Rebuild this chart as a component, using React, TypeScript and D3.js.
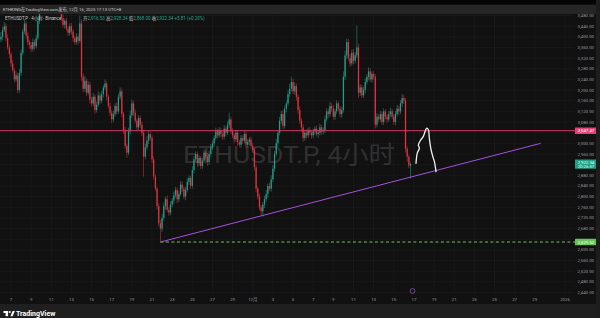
import React from 'react';
import * as d3 from 'd3';

const W = 600;
const H = 318;

// 4h candles starting 2025-11-06 00:00 (UTC+8 display)
const closes = [
  3400, 3425, 3440, 3395, 3360, 3335,
  3300, 3275, 3240, 3255, 3200, 3265,
  3340, 3420, 3450, 3405, 3380, 3370,
  3355, 3380, 3365, 3395, 3460, 3500,
  3560, 3590, 3610, 3580, 3600, 3620,
  3590, 3570, 3545, 3560, 3530, 3505,
  3470, 3445, 3460, 3430, 3415, 3440,
  3420, 3395, 3380, 3400, 3385, 3450,
  3250, 3205, 3235, 3190, 3220, 3165,
  3150, 3175, 3125, 3145, 3180, 3160,
  3185, 3210, 3225, 3175, 3140, 3115,
  3090, 3110, 3140, 3120, 3175, 3195,
  3110, 3050, 2990, 2965, 3045, 3105,
  3150, 3115, 3085, 3060, 3095, 3070,
  3040, 2950, 2985, 3010, 3035, 3020,
  2940, 2875, 2830, 2765, 2700, 2680,
  2720, 2765, 2790, 2750, 2740, 2770,
  2785, 2805, 2825, 2790, 2810, 2845,
  2830, 2800, 2825, 2855, 2870, 2840,
  2900, 2940, 2960, 2925, 2945, 2915,
  2935, 2965, 2950, 2930, 2960, 2985,
  3000, 3020, 3045, 3030, 3050, 3035,
  3025, 3055, 3040, 3070, 3090, 3045,
  3030, 3015, 3040, 3005, 2995, 3020,
  3010, 3035, 2995, 3005, 3015, 2990,
  2975, 2910, 2830, 2800, 2760, 2745,
  2770, 2790, 2810, 2840, 2830, 2865,
  2905, 2960, 3000, 3040, 3085, 3110,
  3065, 3130, 3150, 3185, 3205, 3230,
  3195, 3215, 3175, 3125, 3085, 3060,
  3020, 3040, 3030, 3050, 3040, 3030,
  3045, 3055, 3035, 3040, 3060, 3045,
  3050, 3090, 3120, 3110, 3140, 3130,
  3100, 3120, 3150, 3130, 3110, 3125,
  3250, 3330, 3380, 3320, 3300, 3340,
  3310, 3330, 3360, 3190, 3210, 3180,
  3200, 3230, 3250, 3270, 3240, 3260,
  3250, 3070, 3100, 3090, 3110, 3080,
  3120, 3100, 3090, 3110, 3120, 3100,
  3080, 3110, 3130, 3120, 3150, 3170,
  3160, 2980, 2950, 2916.53, 2922.34,
];
const firstOpen = 3390;

const upWick = [
  18, 12, 15, 10, 14, 9,
  10, 12, 8, 15, 9, 14,
  12, 10, 16, 9, 12, 8,
  10, 14, 9, 12, 15, 10,
  15, 12, 18, 10, 14, 16,
  12, 9, 14, 10, 8, 12,
  10, 14, 8, 12, 9, 11,
  12, 8, 10, 14, 9, 30,
  15, 12, 18, 9, 14, 10,
  10, 14, 8, 12, 15, 9,
  12, 10, 15, 9, 8, 12,
  9, 12, 10, 14, 11, 15,
  10, 8, 12, 9, 14, 18,
  15, 10, 12, 8, 11, 9,
  12, 10, 14, 16, 12, 9,
  10, 12, 9, 8, 10, 14,
  15, 12, 10, 14, 9, 12,
  10, 14, 12, 9, 11, 13,
  12, 9, 11, 14, 10, 8,
  14, 12, 10, 9, 12, 8,
  10, 12, 9, 14, 11, 12,
  12, 10, 14, 9, 12, 8,
  10, 14, 9, 12, 25, 10,
  12, 9, 11, 10, 8, 12,
  10, 12, 9, 11, 8, 10,
  12, 9, 10, 8, 11, 9,
  10, 12, 14, 9, 12, 15,
  14, 12, 16, 10, 14, 12,
  15, 12, 10, 14, 18, 20,
  12, 14, 10, 9, 12, 10,
  12, 10, 14, 9, 12, 10,
  10, 9, 12, 10, 14, 9,
  10, 14, 12, 10, 15, 12,
  14, 10, 12, 9, 10, 12,
  20, 18, 14, 12, 15, 12,
  14, 12, 82, 15, 12, 10,
  12, 14, 10, 15, 12, 10,
  12, 10, 14, 9, 12, 10,
  12, 9, 10, 12, 14, 10,
  10, 12, 14, 10, 12, 15,
  12, 10, 9, 8, 6,
];

const downWick = [
  10, 14, 8, 12, 10, 15,
  14, 10, 12, 9, 13, 10,
  12, 9, 10, 14, 12, 15,
  12, 10, 14, 9, 8, 12,
  14, 10, 12, 15, 10, 9,
  12, 14, 10, 9, 12, 10,
  12, 10, 14, 9, 12, 10,
  12, 14, 10, 9, 15, 8,
  15, 14, 10, 12, 9, 15,
  12, 10, 14, 9, 8, 12,
  10, 12, 9, 14, 10, 12,
  14, 9, 10, 12, 8, 10,
  12, 14, 10, 20, 9, 12,
  10, 12, 9, 14, 10, 12,
  12, 75, 10, 9, 12, 10,
  14, 12, 10, 15, 12, 50.48,
  12, 10, 14, 9, 12, 10,
  10, 12, 9, 14, 10, 8,
  12, 10, 14, 9, 11, 12,
  10, 12, 9, 14, 10, 12,
  12, 9, 10, 14, 12, 10,
  10, 12, 9, 11, 10, 12,
  12, 10, 14, 9, 12, 10,
  10, 12, 9, 14, 10, 12,
  12, 10, 14, 9, 12, 10,
  10, 12, 14, 10, 12, 15,
  20, 12, 10, 14, 9, 12,
  10, 12, 9, 14, 10, 12,
  12, 10, 14, 9, 12, 10,
  10, 12, 14, 16, 12, 15,
  14, 10, 12, 9, 10, 12,
  10, 12, 9, 14, 10, 12,
  12, 10, 9, 14, 10, 12,
  10, 12, 9, 10, 12, 14,
  10, 12, 14, 10, 12, 9,
  12, 10, 9, 20, 12, 10,
  10, 12, 9, 14, 10, 12,
  12, 14, 10, 12, 9, 10,
  12, 10, 14, 9, 12, 10,
  10, 12, 9, 14, 10, 12,
  12, 14, 20, 10, 48.53,
];

const priceTicks = [3480, 3440, 3400, 3360, 3320, 3280, 3240, 3200, 3160, 3120, 3080, 3040, 3000, 2960, 2920, 2880, 2840, 2800, 2760, 2720, 2680, 2640, 2600, 2560, 2520, 2480, 2440];
const hiddenPriceTicks = [3040, 2920, 2640];

const timeTickDates = [
  '2025-11-07', '2025-11-09', '2025-11-11', '2025-11-13', '2025-11-15', '2025-11-17', '2025-11-19',
  '2025-11-21', '2025-11-23', '2025-11-25', '2025-11-27', '2025-11-29', '2025-12-01', '2025-12-03',
  '2025-12-05', '2025-12-07', '2025-12-09', '2025-12-11', '2025-12-13', '2025-12-15', '2025-12-17',
  '2025-12-19', '2025-12-21', '2025-12-23', '2025-12-25', '2025-12-27', '2025-12-29', '2026-01-01',
];
const timeTickLabels = ['7', '9', '11', '13', '15', '17', '19', '21', '23', '25', '27', '29', '12月', '3', '5', '7', '9', '11', '13', '15', '17', '19', '21', '23', '25', '27', '29', '2026'];

const resistanceLevel = 3047.47;
const supportLevel = 2629.52;
const lastTimeLabel = '20:26:57';
const trendStart = { date: '2025-11-21', hour: 20, price: 2629.52 };
const trendEnd = { date: '2025-12-29', hour: 14, price: 3000 };
// hand drawn sketch: hours after 2025-12-16 00:00 and price
const sketchHours = [29, 32, 37, 34.6, 40.3, 46.5, 50.5, 54.6, 58.4, 60.8, 64.1, 68.9, 72.7, 76.7];
const sketchPrices = [2925, 2963, 2982, 2994, 3013, 3026, 3044, 3057, 3051, 3019, 2982, 2951, 2932, 2894];

const parseDate = (s: string, hour = 0) => {
  const [y, m, d] = s.split('-').map(Number);
  return new Date(y, m - 1, d, hour);
};

const FONT = "Roboto, 'Noto Sans CJK SC', 'DejaVu Sans', sans-serif";
const UP = '#22ab94';
const DOWN = '#f23645';
const GRID = '#1c1c1c';
const AXIS_TEXT = '#9a9a9a';

const PLOT_TOP = 14;
const PLOT_BOTTOM = 304;
const PLOT_RIGHT = 574;

export default function App() {
  const x = d3.scaleTime()
    .domain([parseDate('2025-11-07'), parseDate('2026-01-01')])
    .range([11, 565]);
  const y = d3.scaleLinear().domain([2440, 3480]).range([292.5, 15.5]);

  const t0 = parseDate('2025-11-06');
  const candles = closes.map((c, i) => {
    const o = i === 0 ? firstOpen : closes[i - 1];
    const hi = Math.max(o, c) + upWick[i];
    const lo = Math.min(o, c) - downWick[i];
    const t = new Date(t0.getTime() + i * 4 * 3600 * 1000);
    return { t, o, h: hi, l: lo, c };
  });
  const last = candles[candles.length - 1];
  const chg = last.c - last.o;
  const chgPct = (chg / last.o) * 100;
  const fmt = d3.format(',.2f');

  const trendX1 = x(parseDate(trendStart.date, trendStart.hour));
  const trendX2 = x(parseDate(trendEnd.date, trendEnd.hour));

  const dec16 = parseDate('2025-12-16');
  const sketchPts: [number, number][] = sketchHours.map((h, i) => [
    x(new Date(dec16.getTime() + h * 3600 * 1000)),
    y(sketchPrices[i]),
  ]);
  const sketchPath = d3.line().curve(d3.curveCatmullRom.alpha(0.5))(sketchPts) || '';

  return (
    <svg width={W} height={H} style={{ position: 'absolute', left: 0, top: 0, display: 'block' }}
      fontFamily={FONT}>
      <defs>
        <clipPath id="plot">
          <rect x={0} y={PLOT_TOP} width={PLOT_RIGHT} height={PLOT_BOTTOM - PLOT_TOP} />
        </clipPath>
      </defs>
      <rect x={0} y={0} width={W} height={H} fill="#111111" />

      {/* grid */}
      <g>
        {priceTicks.map((p) => (
          <line key={'h' + p} x1={0} x2={PLOT_RIGHT} y1={y(p)} y2={y(p)} stroke={GRID} strokeWidth={0.6} />
        ))}
        {timeTickDates.map((d) => (
          <line key={'v' + d} x1={x(parseDate(d))} x2={x(parseDate(d))} y1={PLOT_TOP} y2={PLOT_BOTTOM - 10}
            stroke={GRID} strokeWidth={0.6} />
        ))}
      </g>

      {/* watermark */}
      <text x={289} y={163} fontSize={24} fill="rgba(140,140,140,0.27)" textAnchor="middle"
        textLength={212} lengthAdjust="spacingAndGlyphs" fontFamily={FONT}>ETHUSDT.P, 4小时</text>

      {/* candles */}
      <g clipPath="url(#plot)">
        {candles.map((d, i) => {
          const col = d.c >= d.o ? UP : DOWN;
          const cx = x(d.t);
          const yTop = y(Math.max(d.o, d.c));
          const yBot = y(Math.min(d.o, d.c));
          return (
            <g key={i}>
              <line x1={cx} x2={cx} y1={y(d.h)} y2={y(d.l)} stroke={col} strokeWidth={0.6} opacity={0.85} />
              <rect x={cx - 0.65} y={yTop} width={1.3} height={Math.max(0.6, yBot - yTop)} fill={col} opacity={0.85} />
            </g>
          );
        })}
      </g>

      {/* levels */}
      <line x1={0} x2={PLOT_RIGHT + 2} y1={y(resistanceLevel)} y2={y(resistanceLevel)} stroke="#d63b62" strokeWidth={1} />
      <line x1={trendX1} x2={PLOT_RIGHT + 2} y1={y(supportLevel)} y2={y(supportLevel)} stroke="#7fd36b"
        strokeWidth={0.9} strokeDasharray="3,2.5" />
      <line x1={trendX1} y1={y(trendStart.price)} x2={trendX2} y2={y(trendEnd.price)} stroke="#a552dc" strokeWidth={1} />
      <path d={sketchPath} fill="none" stroke="#f2f2f2" strokeWidth={1.3} strokeLinecap="round" strokeLinejoin="round" />

      {/* price axis labels */}
      <g fontSize={4.3} fill={AXIS_TEXT} textAnchor="end">
        {priceTicks.filter((p) => !hiddenPriceTicks.includes(p)).map((p) => (
          <text key={'pt' + p} x={594} y={y(p)} dy="0.35em">{fmt(p)}</text>
        ))}
      </g>
      <g fontSize={4.3} textAnchor="middle">
        <rect x={575} y={y(resistanceLevel) - 3.2} width={22} height={6.4} fill="#e0457a" rx={0.5} />
        <text x={586} y={y(resistanceLevel)} dy="0.35em" fill="#ffffff">{fmt(resistanceLevel)}</text>
        <rect x={575} y={y(last.c) - 4.6} width={22} height={9.2} fill="#1e9f86" rx={0.5} />
        <text x={586} y={y(last.c) - 1.8} dy="0.35em" fill="#ffffff">{fmt(last.c)}</text>
        <text x={586} y={y(last.c) + 2.3} dy="0.35em" fill="#e6f5f1">{lastTimeLabel}</text>
        <rect x={575} y={y(supportLevel) - 3.2} width={22} height={6.4} fill="#6cc25a" rx={0.5} />
        <text x={586} y={y(supportLevel)} dy="0.35em" fill="#ffffff">{fmt(supportLevel)}</text>
      </g>

      {/* time axis labels */}
      <g fontSize={4.3} fill={AXIS_TEXT} textAnchor="middle">
        {timeTickDates.map((d, i) => (
          <text key={'tt' + d} x={x(parseDate(d))} y={299.5} dy="0.35em">{timeTickLabels[i]}</text>
        ))}
      </g>
      <circle cx={x(last.t) + 2} cy={291} r={2.4} fill="none" stroke="#8e4bc4" strokeWidth={0.8} />

      {/* header */}
      <rect x={0} y={0} width={W} height={4.7} fill="#050505" />
      <rect x={0} y={4.7} width={W} height={9.3} fill="#262626" />
      <text x={3} y={9.4} dy="0.35em" fontSize={4.3} fill="#cfcfcf">ETHKING在TradingView.com发布, 12月 16, 2025 17:13 UTC+8</text>

      {/* legend */}
      <g fontSize={4.5}>
        <text x={5} y={18.4} dy="0.35em" fill="#c8c8c8">ETHUSDT.P</text>
        <text x={29} y={18.4} dy="0.35em" fill="#c8c8c8">· 4小时</text>
        <text x={43} y={18.4} dy="0.35em" fill="#c8c8c8">· Binance</text>
        <text x={83} y={18.4} dy="0.35em" fill={UP}>
          <tspan fill="#c8c8c8">开</tspan>{fmt(last.o)}{'  '}
          <tspan fill="#c8c8c8">高</tspan>{fmt(last.h)}{'  '}
          <tspan fill="#c8c8c8">低</tspan>{fmt(last.l)}{'  '}
          <tspan fill="#c8c8c8">收</tspan>{fmt(last.c)}{'  '}
          {(chg >= 0 ? '+' : '−') + fmt(Math.abs(chg))} ({(chg >= 0 ? '+' : '−') + Math.abs(chgPct).toFixed(2)}%)
        </text>
      </g>

      {/* footer */}
      <rect x={0} y={PLOT_BOTTOM} width={W} height={H - PLOT_BOTTOM} fill="#1f1f1f" />
      <rect x={596} y={0} width={4} height={H} fill="#1d1d1d" />
      <g fill="#ffffff">
        <rect x={3.5} y={311} width={4.6} height={2} />
        <rect x={5.6} y={311} width={2.5} height={5.2} />
        <circle cx={9.8} cy={312} r={1} />
        <polygon points="10.4,316.2 12.6,311 14.9,311 12.6,316.2" />
        <text x={16} y={313.8} dy="0.35em" fontSize={7} fontWeight="bold">TradingView</text>
      </g>
    </svg>
  );
}
